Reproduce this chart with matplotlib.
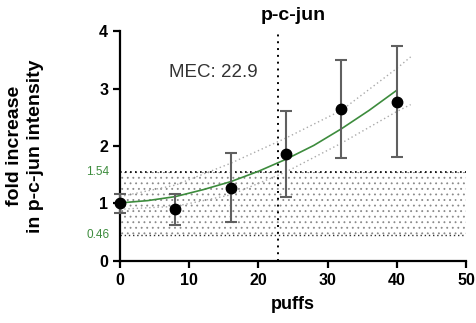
import matplotlib.pyplot as plt
import numpy as np

plt.rcParams['font.family'] = ['Liberation Sans', 'DejaVu Sans']
plt.rcParams['hatch.color'] = '#8a8a8a'
plt.rcParams['hatch.linewidth'] = 0.6

# measured points (mean +/- SD)
puffs = [0, 8, 16, 24, 32, 40]
fold = [1.0, 0.90, 1.27, 1.86, 2.64, 2.77]
sd = [0.17, 0.27, 0.60, 0.74, 0.85, 0.97]

# fitted curve and its confidence band
fit_x = [0, 4, 8, 12, 16, 20, 24, 28, 32, 36, 40]
fit_y = [1.01, 1.05, 1.12, 1.24, 1.38, 1.56, 1.77, 2.01, 2.30, 2.62, 2.97]
band_x = [0, 8, 16, 24, 32, 40, 42]
band_hi = [1.12, 1.32, 1.70, 2.14, 2.62, 3.35, 3.55]
band_lo = [0.90, 0.95, 1.15, 1.55, 2.05, 2.60, 2.72]

# baseline range and MEC
base_lo, base_hi = 0.46, 1.54
mec = 22.9

green = '#3d8c3d'

fig = plt.figure(figsize=(4.77, 3.23), dpi=100)
ax = fig.add_axes([0.2516, 0.192, 0.7254, 0.712])

# baseline band with dot pattern
ax.fill_between([0, 50], base_lo, base_hi, facecolor='none', edgecolor='#8a8a8a',
                hatch='...', linewidth=0)
ax.plot([0, 50], [base_hi, base_hi], color='black', ls=(0, (1, 2)), lw=1.2)
ax.plot([0, 50], [base_lo, base_lo], color='#333333', ls=(0, (1, 2)), lw=1.0)

# confidence band
ax.plot(band_x, band_hi, color='#aaaaaa', ls=(0, (1, 2)), lw=1.0)
ax.plot(band_x, band_lo, color='#aaaaaa', ls=(0, (1, 2)), lw=1.0)

# fit
ax.plot(fit_x, fit_y, color=green, lw=1.2)

# MEC line
ax.axvline(mec, color='black', ls=(0, (1, 2.5)), lw=1.4)
ax.text(13.5, 3.28, f'MEC: {mec}', ha='center', va='center', fontsize=13.5, color='#333333')

ax.errorbar(puffs, fold, yerr=sd, fmt='o', color='black', ms=7.5,
            ecolor='#606060', elinewidth=1.5, capsize=4, capthick=1.5,
            clip_on=False, zorder=5)

ax.set_xlim(0, 50)
ax.set_ylim(0, 4)
ax.set_xticks(range(0, 51, 10))
ax.set_yticks(range(0, 5))
for s in ['top', 'right']:
    ax.spines[s].set_visible(False)
for s in ['left', 'bottom']:
    ax.spines[s].set_linewidth(1.6)
ax.tick_params(width=1.6, length=5, labelsize=11.5, direction='out')
for lab in ax.get_xticklabels() + ax.get_yticklabels():
    lab.set_fontweight('bold')

ax.text(-0.03, base_hi, f'{base_hi}', transform=ax.get_yaxis_transform(),
        ha='right', va='center', fontsize=8.5, color=green)
ax.text(-0.03, base_lo, f'{base_lo:.2f}', transform=ax.get_yaxis_transform(),
        ha='right', va='center', fontsize=8.5, color=green)

ax.set_title('p-c-jun', fontsize=14, fontweight='bold', pad=8)
ax.set_xlabel('puffs', fontsize=13, fontweight='bold', labelpad=6)
ax.set_ylabel('fold increase\nin p-c-jun intensity', fontsize=14, fontweight='bold',
              labelpad=40, linespacing=1.25)

fig.savefig('out.png', dpi=100)
